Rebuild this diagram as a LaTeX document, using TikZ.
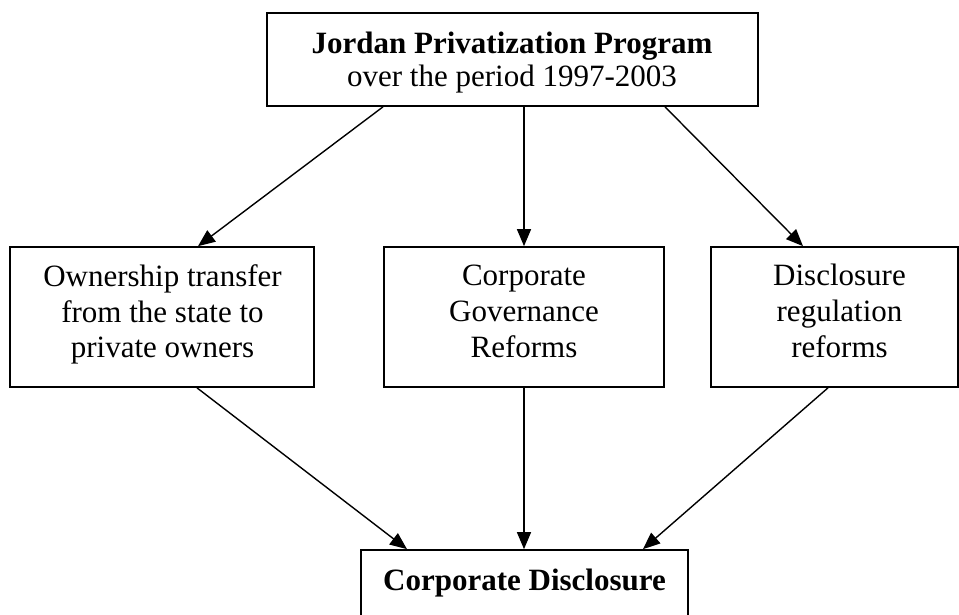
\documentclass[tikz,border=0pt]{standalone}
\usepackage{fontspec}
\setmainfont{Liberation Serif}
\usetikzlibrary{arrows.meta}
\begin{document}
\begin{tikzpicture}[x=1pt,y=-1pt,
  box/.style={draw=black, line width=1.7pt, inner sep=0pt, rectangle},
  txt/.style={anchor=base, inner sep=0pt, font=\fontsize{31}{36}\selectfont},
  txtb/.style={txt, font=\fontsize{31}{36}\selectfont\bfseries},
  link/.style={-{Triangle[length=17pt,width=14pt]}, line width=1.4pt}]
  \useasboundingbox (0,0) rectangle (959,615);
  \fill[white] (0,0) rectangle (959,615);
  \clip (0,0) rectangle (959,615);

  % boxes
  \node[box, minimum width=491pt, minimum height=93pt] (top) at (512.5,59.5) {};
  \node[box, minimum width=304pt, minimum height=140pt] (own) at (162,317) {};
  \node[box, minimum width=280pt, minimum height=140pt] (gov) at (524,317) {};
  \node[box, minimum width=247pt, minimum height=140pt] (reg) at (834.5,317) {};
  \node[box, minimum width=327pt, minimum height=100pt] (disc) at (524.5,600) {};

  % texts
  \node[txtb] (topA) at (512,54) {Jordan Privatization Program};
  \node[txt]  (topB) at (512,87) {over the period 1997-2003};

  \node[txt] (ownA) at (162.5,286.5) {Ownership transfer};
  \node[txt] (ownB) at (162.5,322.5) {from the state to};
  \node[txt] (ownC) at (162.5,357.5) {private owners};

  \node[txt] (govA) at (524,285.5) {Corporate};
  \node[txt] (govB) at (524,321.5) {Governance};
  \node[txt] (govC) at (524,357.5) {Reforms};

  \node[txt] (regA) at (839.5,285.5) {Disclosure};
  \node[txt] (regB) at (839.5,321.5) {regulation};
  \node[txt] (regC) at (839.5,357.5) {reforms};

  \node[txtb] (discA) at (524.5,590) {Corporate Disclosure};

  % connectors
  \draw[link] ([xshift=-129.5pt]top.south) -- ([xshift=36pt]own.north);
  \draw[link] ([xshift=11.5pt]top.south) -- (gov.north);
  \draw[link] ([xshift=152.5pt]top.south) -- ([xshift=-31.5pt]reg.north);

  \draw[link] ([xshift=35pt]own.south) -- ([xshift=-117.5pt]disc.north);
  \draw[link] (gov.south) -- (disc.north -| gov.south);
  \draw[link] ([xshift=-6.5pt]reg.south) -- ([xshift=118.5pt]disc.north);
\end{tikzpicture}
\end{document}
